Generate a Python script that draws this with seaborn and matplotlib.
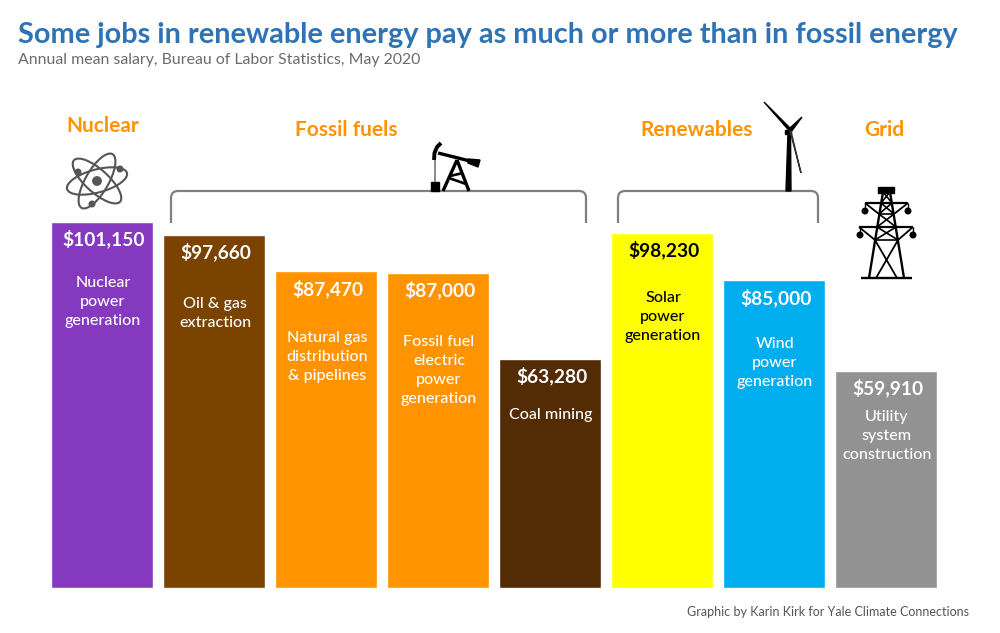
import pandas as pd
import seaborn as sns
import matplotlib.pyplot as plt
from matplotlib.patches import Ellipse, Circle, Polygon, Rectangle, PathPatch
from matplotlib.path import Path

jobs = ["Nuclear\npower\ngeneration", "Oil & gas\nextraction", "Natural gas\ndistribution\n& pipelines",
        "Fossil fuel\nelectric\npower\ngeneration", "Coal mining", "Solar\npower\ngeneration",
        "Wind\npower\ngeneration", "Utility\nsystem\nconstruction"]
salary = [101150, 97660, 87470, 87000, 63280, 98230, 85000, 59910]
bar_colors = ["#8439BE", "#7B4300", "#FF9300", "#FF9300", "#532B04", "#FFFF00", "#00ADEF", "#929292"]
text_colors = ["white", "white", "white", "white", "white", "black", "white", "white"]
# gap from bar top to the text, pixels
value_gap = [17, 17, 17, 17, 17, 17, 17, 17]
desc_gap = [61, 69, 67, 69, 56, 65, 64, 46]
groups = ["Nuclear", "Fossil fuels", "Renewables", "Grid"]
group_x = [103, 346, 697, 884]
group_y = [125.5, 129.5, 129.5, 129.5]

FONT = "Lato"
PX_PER_DOLLAR = 366 / 101150

sns.set_theme(style="white")
plt.rcParams["font.family"] = [FONT, "DejaVu Sans"]

df = pd.DataFrame({"job": jobs, "salary": salary})

fig = plt.figure(figsize=(10, 6.33), dpi=100)
ax = fig.add_axes([0, 0, 1, 1])
sns.barplot(data=df, x="job", y="salary", hue="job", palette=bar_colors, width=102 / 112,
            saturation=1, legend=False, ax=ax)
# keep bars at pixel 102 + 112 * i, baseline at pixel 588
ax.set_xlim(-102 / 112, (1000 - 102) / 112)
ax.set_ylim(-45 / PX_PER_DOLLAR, 588 / PX_PER_DOLLAR)
ax.axis("off")

# overlay in pixels for text and icons
ov = fig.add_axes([0, 0, 1, 1], facecolor="none")
ov.set_xlim(0, 1000)
ov.set_ylim(633, 0)
ov.axis("off")

ov.text(18, 35, "Some jobs in renewable energy pay as much or more than in fossil energy",
        fontsize=20.8, fontweight="bold", color="#2E74B5", va="center", ha="left")
ov.text(18, 60, "Annual mean salary, Bureau of Labor Statistics, May 2020",
        fontsize=11.4, color="#6B6B6B", va="center", ha="left")
ov.text(969, 612, "Graphic by Karin Kirk for Yale Climate Connections",
        fontsize=9.0, color="#555555", va="center", ha="right")

for g, x, y in zip(groups, group_x, group_y):
    ov.text(x, y, g, fontsize=15, fontweight="bold", color="#FF9300", ha="center", va="center")

for i, (job, val) in enumerate(zip(jobs, salary)):
    top = 588 - val * PX_PER_DOLLAR
    cx = 102 + 112 * i
    ov.text(cx + 2, top + value_gap[i], f"${val:,}", fontsize=13.8, fontweight="bold",
            color=text_colors[i], ha="center", va="center")
    for k, line in enumerate(job.split("\n")):
        ov.text(cx + 1, top + desc_gap[i] + 19 * k, line, fontsize=11.65, fontweight="medium", color=text_colors[i],
                ha="center", va="center")


def bracket(x0, x1, top=191, bottom=223, r=7):
    verts = [(x0, bottom), (x0, top + r), (x0, top), (x0 + r, top), (x1 - r, top), (x1, top), (x1, top + r), (x1, bottom)]
    codes = [Path.MOVETO, Path.LINETO, Path.CURVE3, Path.CURVE3, Path.LINETO, Path.CURVE3, Path.CURVE3, Path.LINETO]
    ov.add_patch(PathPatch(Path(verts, codes), fc="none", ec="#808080", lw=1.6))


bracket(171, 586)
bracket(618, 818)


def seg(x0, y0, x1, y1, lw=1.5, c="black"):
    ov.plot([x0, x1], [y0, y1], color=c, lw=lw, solid_capstyle="butt")


# atom
ATOM = "#555555"
for ang in [42, -15, -60]:
    ov.add_patch(Ellipse((97, 181), 62, 23, angle=ang, fc="none", ec=ATOM, lw=1.5))
ov.add_patch(Circle((97, 181), 4.2, color=ATOM))
for ex, ey in [(78, 172), (120, 169), (92, 204)]:
    ov.add_patch(Circle((ex, ey), 2.8, color=ATOM))

# pumpjack
seg(438, 153, 470, 161, lw=2.4)
ov.add_patch(Polygon([(468, 159), (480, 160), (478, 167), (468, 163)], color="black"))
ov.plot([434, 434.5, 437, 441], [160, 153, 147, 143], color="black", lw=2.8, solid_capstyle="butt")
seg(435, 160, 435, 182, lw=1.2, c="#777777")
ov.add_patch(Rectangle((431, 182), 8, 9, color="black"))
seg(457, 160, 443, 191, lw=2.4)
seg(457, 160, 469, 191, lw=2.4)
seg(450, 176, 463, 173, lw=1.9)
seg(449, 178, 466, 184, lw=1.9)

# wind turbine
ov.add_patch(Polygon([(788, 132), (790.5, 132), (791, 191), (786, 191)], color="black"))
ov.add_patch(Rectangle((785, 130), 6, 4, color="black"))
ov.add_patch(Polygon([(764, 102), (791, 129), (789.5, 131)], color="black"))
ov.add_patch(Polygon([(802, 117), (791, 132), (789, 129)], color="black"))
ov.add_patch(Polygon([(801, 173), (790, 131), (790.8, 130.5)], color="#333333"))

# transmission tower
ov.add_patch(Rectangle((878, 187), 16, 5.5, color="black"))
seg(883, 192, 869, 278, lw=1.7)
seg(890, 192, 904, 278, lw=1.7)
seg(861, 278, 912, 278, lw=1.7)
seg(865, 203, 908, 203, lw=1.6)
seg(859, 227, 913, 227, lw=1.6)
seg(865, 203, 879, 214, lw=1.3)
seg(908, 203, 894, 214, lw=1.3)
seg(859, 227, 875, 240, lw=1.3)
seg(913, 227, 898, 240, lw=1.3)
for x, y0, y1 in [(865, 203, 211), (908, 203, 211), (860, 227, 235), (913, 227, 235)]:
    seg(x, y0, x, y1, lw=1.0)
    ov.add_patch(Circle((x, y1), 2.8, color="black"))
# lattice crossings (left edge, right edge at each level)
levels = [(192, 883, 890), (203, 881, 892), (214, 879, 894), (227, 877, 896), (240, 875, 898)]
for (y0, l0, r0), (y1, l1, r1) in zip(levels, levels[1:]):
    seg(l0, y0, r1, y1, lw=1.2)
    seg(r0, y0, l1, y1, lw=1.2)
    seg(l1, y1, r1, y1, lw=1.2)
seg(875, 240, 897, 278, lw=1.3)
seg(898, 240, 876, 278, lw=1.3)

fig.savefig("out.png", dpi=100)
